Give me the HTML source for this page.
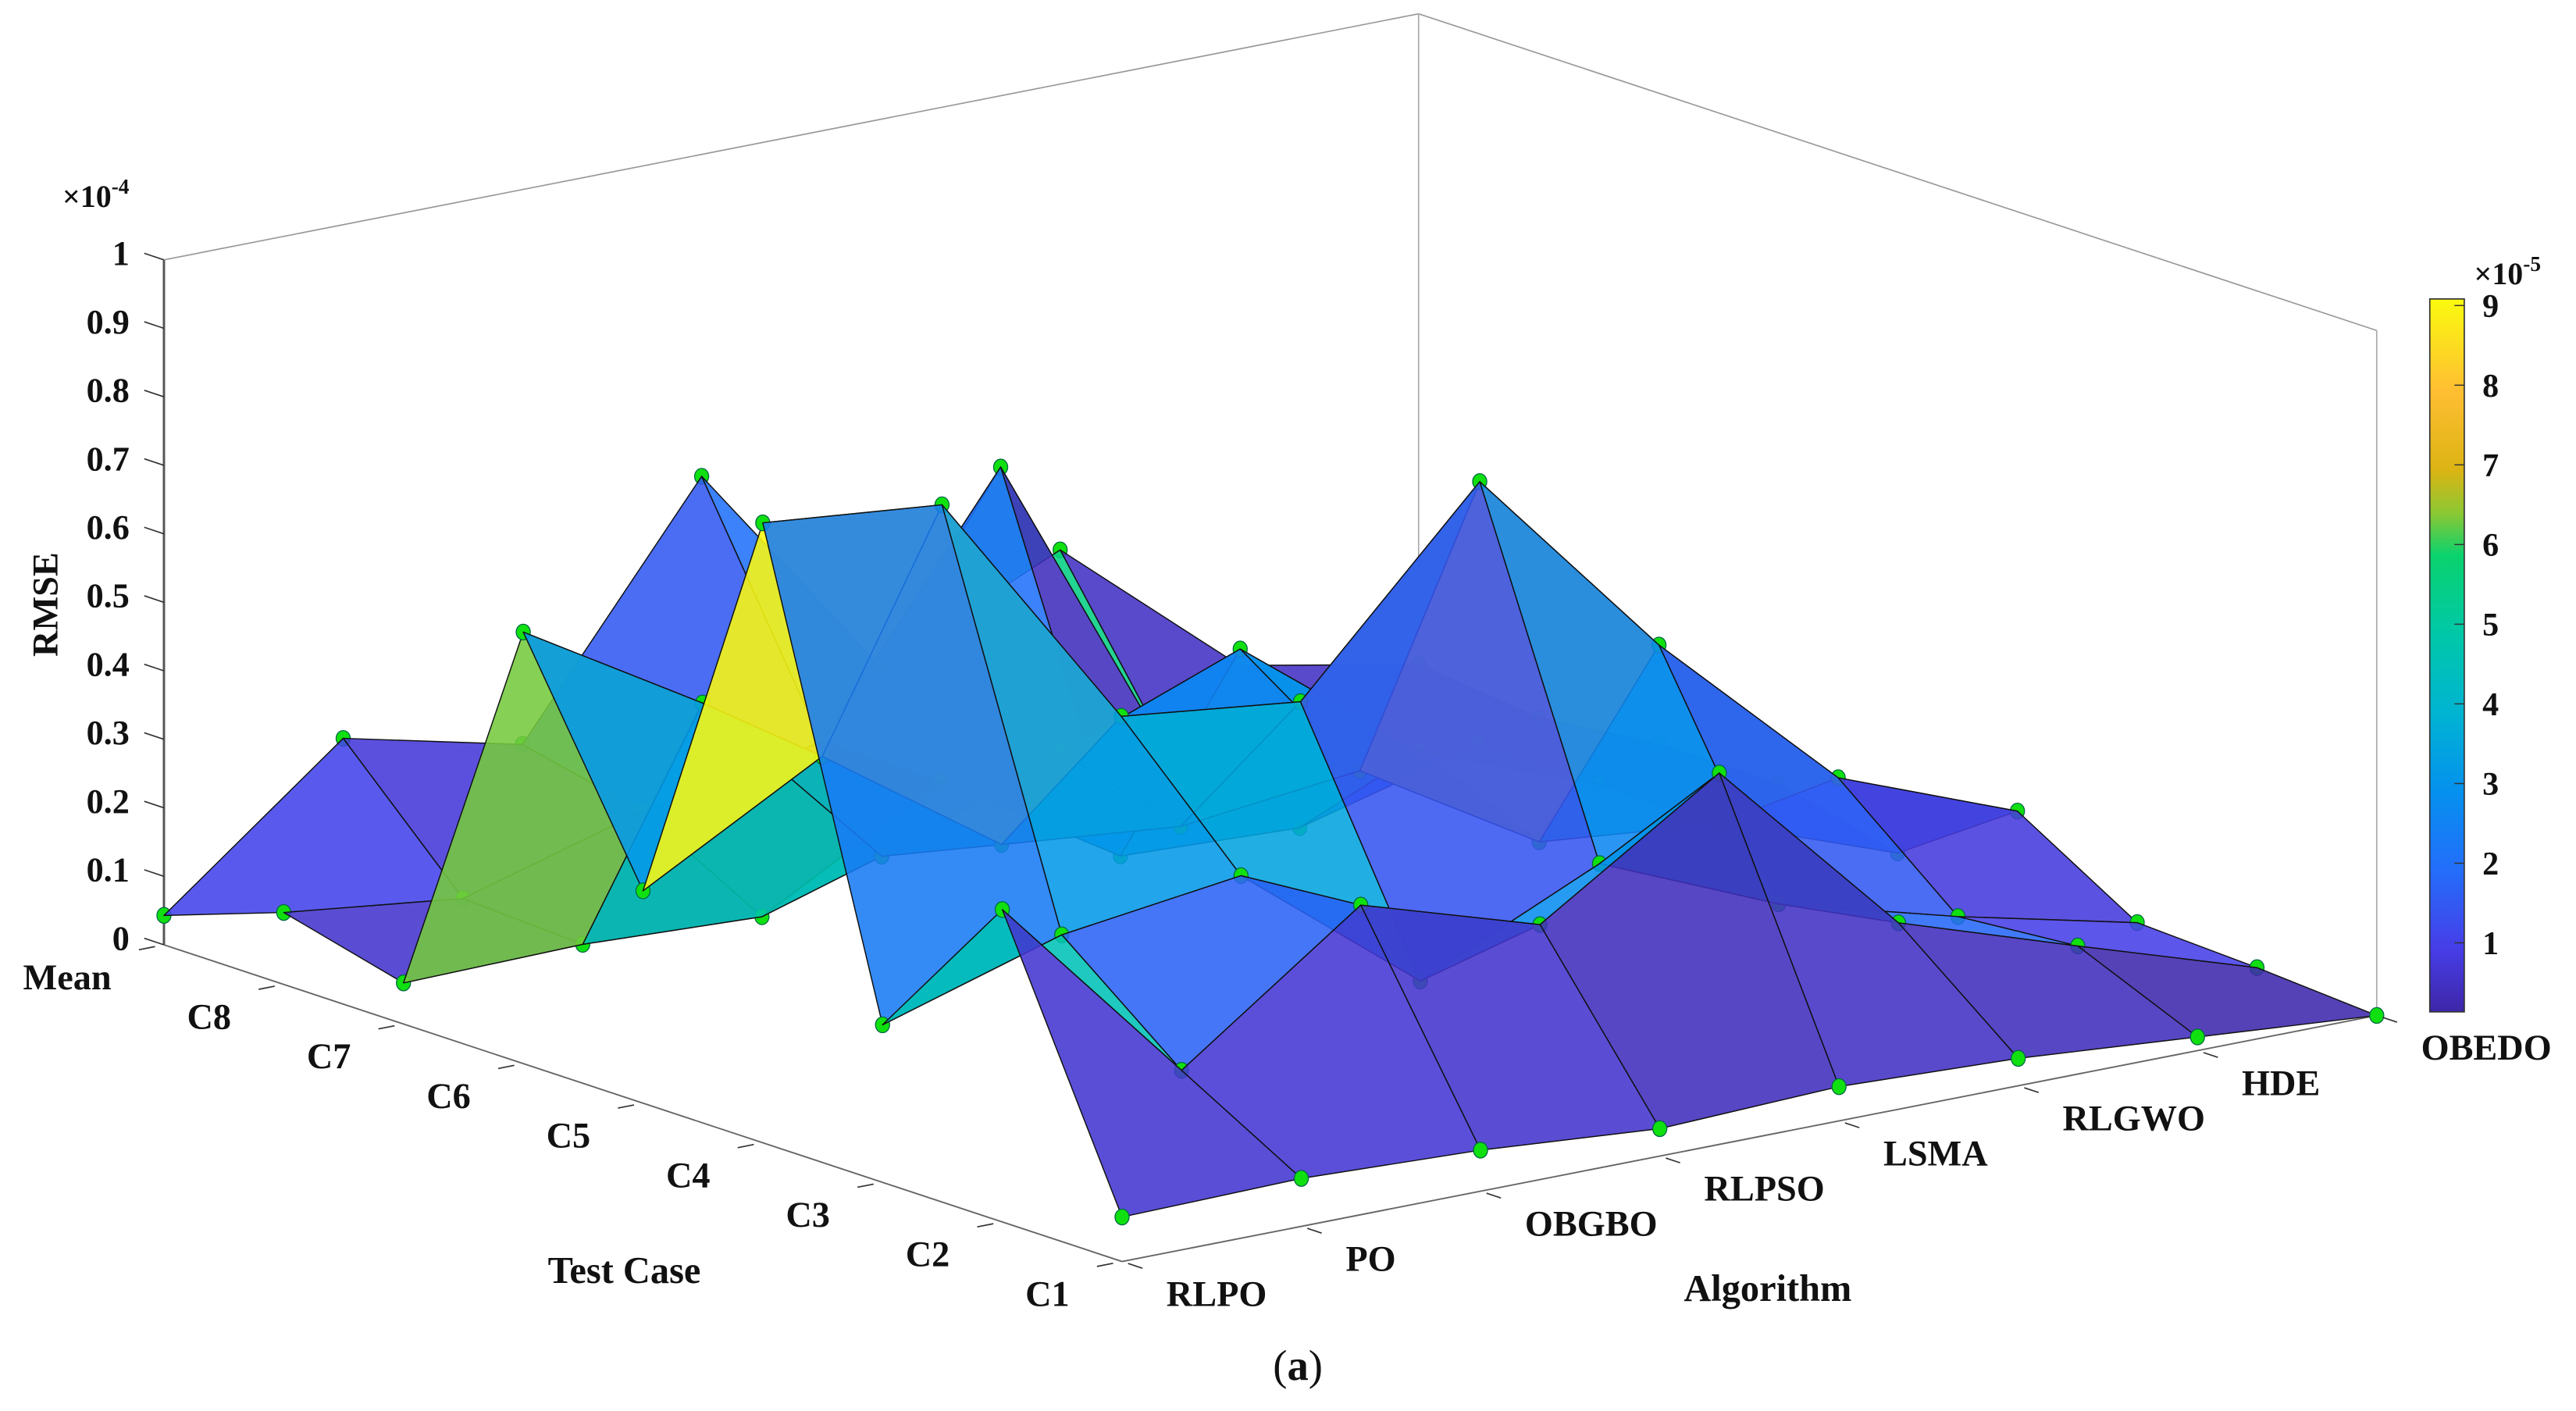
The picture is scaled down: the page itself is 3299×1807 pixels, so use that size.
<!DOCTYPE html>
<html><head><meta charset="utf-8"><style>
html,body{margin:0;padding:0;background:#fff;}
svg{display:block;}
text{font-family:"Liberation Serif",serif;font-weight:bold;fill:#111;}
</style></head><body>
<svg id="chart" width="3299" height="1807" viewBox="0 0 1568 859" preserveAspectRatio="none" xmlns="http://www.w3.org/2000/svg">
<defs>
<linearGradient id="parula" x1="0" y1="1" x2="0" y2="0">
<stop offset="0" stop-color="rgb(62,38,168)"/>
<stop offset="0.09" stop-color="rgb(70,62,232)"/>
<stop offset="0.2" stop-color="rgb(35,110,250)"/>
<stop offset="0.31" stop-color="rgb(5,145,238)"/>
<stop offset="0.42" stop-color="rgb(0,180,210)"/>
<stop offset="0.53" stop-color="rgb(0,200,168)"/>
<stop offset="0.64" stop-color="rgb(10,210,110)"/>
<stop offset="0.7" stop-color="rgb(140,200,50)"/>
<stop offset="0.76" stop-color="rgb(220,180,20)"/>
<stop offset="0.87" stop-color="rgb(255,190,50)"/>
<stop offset="1" stop-color="rgb(250,250,15)"/>
</linearGradient>
</defs>
<g id="box"></g>
<g id="surface"></g>
<g id="axes"></g>
<g id="colorbar">
<rect x="1479" y="182" width="21" height="434" fill="url(#parula)" stroke="#333" stroke-width="0.8"/>
<text x="1506" y="173" font-size="19">×10<tspan font-size="13" dy="-8">-5</tspan></text>
</g>
<text x="38" y="126" font-size="19">×10<tspan font-size="13" dy="-8">-4</tspan></text>
<text x="0" y="0" font-size="22" text-anchor="middle" transform="translate(35,368) rotate(-90)">RMSE</text>
<text x="380" y="781" font-size="23" text-anchor="middle">Test Case</text>
<text x="1076" y="792" font-size="23" text-anchor="middle">Algorithm</text>
<text x="790" y="840" font-size="26" text-anchor="middle" style="font-weight:normal">(<tspan font-weight="bold">a</tspan>)</text>
</svg>
<script>
const algorithms = ['RLPO','PO','OBGBO','RLPSO','LSMA','RLGWO','HDE','OBEDO'];
const testCases = ['C1','C2','C3','C4','C5','C6','C7','C8','Mean'];
// RMSE values (x1e-4), one array per test case, ordered by algorithms
const rmseC1 = [0.065,0.07,0.06,0.04,0.05,0.04,0.02,0.0];
const rmseC2 = [0.456,0.17,0.36,0.28,0.45,0.18,0.095,0.012];
const rmseC3 = [0.23,0.31,0.345,0.14,0.26,0.15,0.08,0.02];
const rmseC4 = [0.905,0.88,0.52,0.49,0.76,0.47,0.225,0.125];
const rmseC5 = [0.31,0.455,0.275,0.25,0.28,0.125,0.1,0.006];
const rmseC6 = [0.63,0.475,0.2,0.3,0.40,0.2,0.1,0.05];
const rmseC7 = [0.06,0.065,0.054,0.2,0.04,0.03,0.1,0.05];
const rmseC8 = [0.105,0.074,0.15,0.2,0.55,0.05,0.05,0.03];
const rmseMean = [0.043,0.25,0.19,0.53,0.2,0.32,0.1,0.05];
const zTicks = [0,0.1,0.2,0.3,0.4,0.5,0.6,0.7,0.8,0.9,1];
const zTickLabels = ['0','0.1','0.2','0.3','0.4','0.5','0.6','0.7','0.8','0.9','1'];
const cbTicks = [1,2,3,4,5,6,7,8,9];

const rows = [rmseC1,rmseC2,rmseC3,rmseC4,rmseC5,rmseC6,rmseC7,rmseC8,rmseMean];
const NS='http://www.w3.org/2000/svg';
function P(i,j,v){ return [683 + 109.1*i - 72.9*j, 768 - 21.4*i - 24.1*j - 417*v]; }
function mk(tag,attrs,parent){ const e=document.createElementNS(NS,tag); for(const k in attrs) e.setAttribute(k,attrs[k]); parent.appendChild(e); return e; }
const stops=[[0,62,38,168],[0.09,70,62,232],[0.2,35,110,250],[0.31,5,145,238],[0.42,0,180,210],[0.53,0,200,168],[0.64,10,210,110],[0.7,140,200,50],[0.76,220,180,20],[0.87,255,190,50],[1,250,250,15]];
const cbMin=(622.5-616)/48.5, cbMax=(622.5-182)/48.5;
function color(v){
  let t=(v*10-cbMin)/(cbMax-cbMin); t=Math.max(0,Math.min(1,t));
  for(let k=1;k<stops.length;k++){ if(t<=stops[k][0]){ const a=stops[k-1],b=stops[k]; const f=(t-a[0])/(b[0]-a[0]);
    return 'rgb('+[1,2,3].map(c=>Math.round(a[c]+(b[c]-a[c])*f)).join(',')+')'; } }
  return 'rgb(250,250,15)';
}
const box=document.getElementById('box');
function line(g,a,b,stroke,w,name){ const l=mk('line',{x1:a[0],y1:a[1],x2:b[0],y2:b[1],stroke:stroke,'stroke-width':w},g);
  
   return l; }
line(box,P(0,8,0),P(0,8,1),'#555',1.4,'z-axis-line');
line(box,P(0,8,1),P(7,8,1),'#999',0.8,'box-top-left-edge');
line(box,P(7,8,1),P(7,0,1),'#999',0.8,'box-top-right-edge');
line(box,P(7,8,1),P(7,8,0),'#aaa',0.8,'box-back-vertical-edge');
line(box,P(7,0,1),P(7,0,0),'#aaa',0.8,'box-right-vertical-edge');
line(box,P(0,8,0),P(0,0,0),'#666',0.9,'test-case-axis-line');
line(box,P(0,0,0),P(7,0,0),'#666',0.9,'algorithm-axis-line');

// surface faces and markers, painted back to front
const surf=document.getElementById('surface');
const items=[];
for(let j=0;j<8;j++) for(let i=0;i<7;i++) items.push({t:'f',i,j,d:(i+0.5)+1.1*(j+0.5)});
for(let j=0;j<9;j++) for(let i=0;i<8;i++) items.push({t:'m',i,j,d:i+1.1*j+0.01});
items.sort((a,b)=>b.d-a.d);
items.forEach(f=>{
  const {i,j}=f;
  if(f.t==='f'){
    const pts=[P(i,j,rows[j][i]),P(i+1,j,rows[j][i+1]),P(i+1,j+1,rows[j+1][i+1]),P(i,j+1,rows[j+1][i])];
    const p=mk('polygon',{points:pts.map(q=>q[0].toFixed(1)+','+q[1].toFixed(1)).join(' '),fill:color(rows[j][i]),'fill-opacity':0.88,stroke:'#111','stroke-width':0.7,'stroke-linejoin':'round'},surf);
    
    
  } else {
    const q=P(i,j,rows[j][i]);
    const c=mk('ellipse',{cx:q[0],cy:q[1],rx:4.3,ry:4.8,fill:'#10e010',stroke:'#064',"stroke-width":0.6},surf);
    
    
  }
});
// axes ticks & labels
const ax=document.getElementById('axes');
zTicks.forEach((v,k)=>{
  const a=P(0,8,v);
  line(ax,a,[a[0]-12,a[1]-4],'#333',0.8,'z-tick');
  const t=mk('text',{x:a[0]-21,y:a[1]+3,'font-size':21,'text-anchor':'end'},ax);
  t.textContent=zTickLabels[k];
  
  
});
testCases.forEach((c,j)=>{
  const a=P(0,j,0);
  line(ax,P(-0.05,j,0),P(-0.14,j,0),'#333',0.8,'test-case-tick');
  const t=mk('text',{x:a[0]-32,y:a[1]+27,'font-size':22,'text-anchor':'end'},ax);
  t.textContent=c;
  
  
});
algorithms.forEach((c,i)=>{
  const a=P(i,0,0);
  line(ax,P(i,-0.05,0),P(i,-0.17,0),'#333',0.8,'algorithm-tick');
  const t=mk('text',{x:a[0]+27,y:a[1]+27,'font-size':22,'text-anchor':'start'},ax);
  t.textContent=c;
  
  
});
const cb=document.getElementById('colorbar');
cbTicks.forEach(k=>{
  const y=622.5-48.5*k;
  line(cb,[1494,y],[1500,y],'#333',0.7,'colorbar-tick');
  const t=mk('text',{x:1511,y:y+7,'font-size':20},cb);
  t.textContent=String(k);
  
  
});
</script>
</body></html>
